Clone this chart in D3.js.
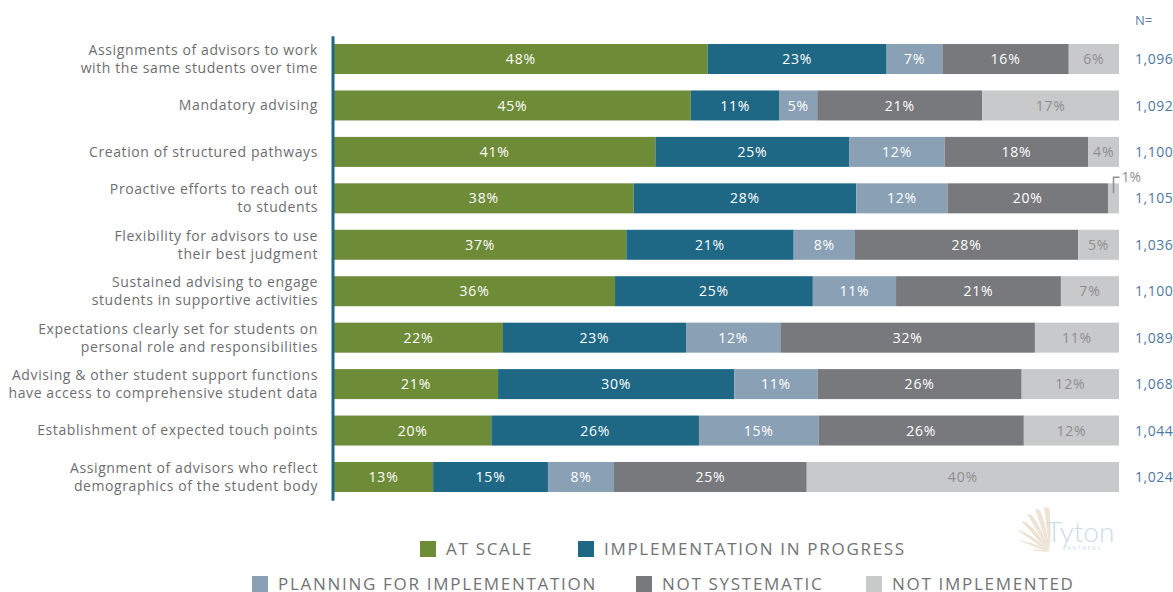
<!DOCTYPE html>
<html>
<head>
<meta charset="utf-8">
<script src="https://cdn.jsdelivr.net/npm/d3@7"></script>
<style>
  body { margin: 0; background: #fff; }
  svg { display: block; font-family: "Open Sans", sans-serif; }
</style>
</head>
<body>
<div id="chart"></div>
<script>
const width = 1173;
const height = 592;

// Data (percent shares per practice)
const categories = [
  ["Assignments of advisors to work", "with the same students over time"],
  ["Mandatory advising"],
  ["Creation of structured pathways"],
  ["Proactive efforts to reach out", "to students"],
  ["Flexibility for advisors to use", "their best judgment"],
  ["Sustained advising to engage", "students in supportive activities"],
  ["Expectations clearly set for students on", "personal role and responsibilities"],
  ["Advising & other student support functions", "have access to comprehensive student data"],
  ["Establishment of expected touch points"],
  ["Assignment of advisors who reflect", "demographics of the student body"]
];
const atScale        = [47.6, 45.4, 40.9, 38.1, 37.2, 35.8, 21.5, 20.9, 20.0, 12.6];
const inProgress     = [22.8, 11.3, 24.7, 28.3, 21.3, 25.2, 23.3, 30.1, 26.4, 14.6];
const planning       = [ 7.1,  4.8, 12.1, 11.6,  7.8, 10.6, 12.0, 10.6, 15.2,  8.4];
const notSystematic  = [16.1, 21.0, 18.3, 20.4, 28.4, 21.0, 32.4, 26.0, 26.1, 24.5];
const notImplemented = [ 6.4, 17.4,  3.9,  1.4,  5.2,  7.4, 10.7, 12.4, 12.1, 39.7];
const nValues = ["1,096", "1,092", "1,100", "1,105", "1,036", "1,100", "1,089", "1,068", "1,044", "1,024"];

const seriesKeys = ["AT SCALE", "IMPLEMENTATION IN PROGRESS", "PLANNING FOR IMPLEMENTATION", "NOT SYSTEMATIC", "NOT IMPLEMENTED"];
const seriesData = [atScale, inProgress, planning, notSystematic, notImplemented];
const colors = ["#6e8c38", "#1e6886", "#8aa1b5", "#78797d", "#c8c9cb"];
const labelColors = ["#ffffff", "#ffffff", "#ffffff", "#ffffff", "#8d8e90"];

const rows = categories.map((c, i) => {
  const r = { id: i };
  seriesKeys.forEach((k, j) => r[k] = seriesData[j][i]);
  return r;
});

const svg = d3.select("#chart").append("svg")
  .attr("width", width)
  .attr("height", height);

const x = d3.scaleLinear().domain([0, 1]).range([334, 1119]);
const y = d3.scaleBand()
  .domain(rows.map(d => d.id))
  .range([35.8, 500.2])
  .paddingInner(0.354)
  .paddingOuter(0.177);

const stacked = d3.stack().keys(seriesKeys).offset(d3.stackOffsetExpand)(rows);

// segments
const layer = svg.append("g").selectAll("g")
  .data(stacked)
  .join("g")
  .attr("fill", (d, i) => colors[i]);

layer.selectAll("rect")
  .data(d => d)
  .join("rect")
  .attr("x", d => x(d[0]))
  .attr("y", d => y(d.data.id))
  .attr("width", d => x(d[1]) - x(d[0]))
  .attr("height", y.bandwidth());

// value labels
stacked.forEach((s, i) => {
  svg.append("g").selectAll("text")
    .data(s.filter(d => Math.round(d.data[s.key]) >= 3))
    .join("text")
    .attr("x", d => (x(d[0]) + x(d[1])) / 2)
    .attr("y", d => y(d.data.id) + y.bandwidth() / 2)
    .attr("dy", "0.36em")
    .attr("text-anchor", "middle")
    .attr("fill", labelColors[i])
    .style("font-size", "14px")
    .style("letter-spacing", "0.8px")
    .text(d => Math.round(d.data[s.key]) + "%");
});

// callout for the tiny segment
const small = stacked[4].filter(d => Math.round(d.data[stacked[4].key]) < 3);
small.forEach(d => {
  const cx = (x(d[0]) + x(d[1])) / 2;
  const top = y(d.data.id);
  svg.append("path")
    .attr("d", `M${cx},${top + 10} V${top - 6} H${cx + 6}`)
    .attr("fill", "none")
    .attr("stroke", "#8d8e90")
    .attr("stroke-width", 1.5);
  svg.append("text")
    .attr("x", cx + 8)
    .attr("y", top - 6)
    .attr("dy", "0.3em")
    .attr("fill", "#8d8e90")
    .style("font-size", "14px")
    .text(Math.round(d.data[stacked[4].key]) + "%");
});

// vertical axis line
const axis = svg.append("g")
  .attr("transform", "translate(332.5,0)")
  .call(d3.axisLeft(y).tickSize(0).tickFormat(""));
axis.select(".domain").attr("stroke", "#1e6886").attr("stroke-width", 3);

// category labels
const catG = svg.append("g").selectAll("text")
  .data(categories)
  .join("text")
  .attr("text-anchor", "end")
  .attr("fill", "#6d6e71")
  .style("font-size", "14px")
  .style("letter-spacing", "0.6px");
catG.each(function(lines, i) {
  const cy = y(i) + y.bandwidth() / 2;
  const t = d3.select(this);
  lines.forEach((line, k) => {
    t.append("tspan")
      .attr("x", 318)
      .attr("y", cy + (k - (lines.length - 1) / 2) * 18)
      .attr("dy", "0.35em")
      .text(line);
  });
});

// N column
svg.append("text")
  .attr("x", 1135).attr("y", 20).attr("dy", "0.35em")
  .attr("fill", "#5a82a8")
  .style("font-size", "13px")
  .text("N=");
svg.append("g").selectAll("text")
  .data(nValues)
  .join("text")
  .attr("x", 1135)
  .attr("y", (d, i) => y(i) + y.bandwidth() / 2)
  .attr("dy", "0.36em")
  .attr("fill", "#4f79a3")
  .style("font-size", "14px")
  .style("letter-spacing", "0.5px")
  .text(d => d);

// legend
const legendPos = [
  { x: 420, y: 549 }, { x: 578, y: 549 },
  { x: 252, y: 584 }, { x: 636, y: 584 }, { x: 866, y: 584 }
];
const legend = svg.append("g").selectAll("g")
  .data(seriesKeys)
  .join("g")
  .attr("transform", (d, i) => `translate(${legendPos[i].x},${legendPos[i].y})`);
legend.append("rect")
  .attr("x", 0).attr("y", -8)
  .attr("width", 16).attr("height", 16)
  .attr("fill", (d, i) => colors[i]);
legend.append("text")
  .attr("x", 26)
  .attr("dy", "0.36em")
  .attr("fill", "#727376")
  .style("font-size", "17px")
  .style("letter-spacing", "1.7px")
  .text(d => d);

// faded logo
const logo = svg.append("g");
const featherTips = [[1044, 507], [1035, 509], [1027, 514], [1021, 521], [1017, 530], [1018, 540], [1024, 549]];
const base = [1049, 552];
logo.selectAll("path")
  .data(featherTips)
  .join("path")
  .attr("d", (t, i) => {
    const mx = (t[0] + base[0]) / 2 + 4, my = (t[1] + base[1]) / 2 - 2;
    return `M${base[0]},${base[1]} Q${mx - 3},${my + 3} ${t[0]},${t[1]} L${t[0] + 5},${t[1] + 1} Q${mx + 2},${my} ${base[0]},${base[1]}Z`;
  })
  .attr("fill", "#ede4d5");
logo.append("text")
  .attr("x", 1046).attr("y", 542)
  .attr("fill", "#cadce6")
  .style("font-size", "28px")
  .style("font-family", "Lato, sans-serif")
  .style("font-weight", 300)
  .text("Tyton");
logo.append("text")
  .attr("x", 1063).attr("y", 550)
  .attr("fill", "#cadce6")
  .style("font-size", "5px")
  .style("letter-spacing", "1.8px")
  .text("PARTNERS");
</script>
</body>
</html>
